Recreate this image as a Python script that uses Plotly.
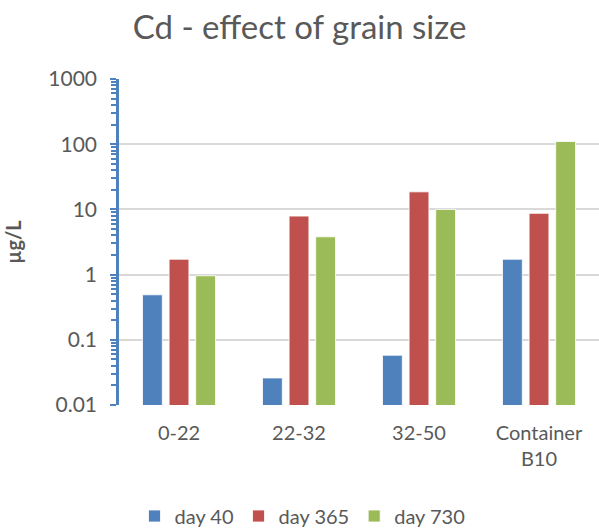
import plotly.graph_objects as go

categories = ["0-22", "22-32", "32-50", "Container<br>B10"]
series_names = ["day 40", "day 365", "day 730"]
day40 = [0.49, 0.026, 0.058, 1.72]
day365 = [1.72, 7.9, 18.6, 8.7]
day730 = [0.96, 3.8, 10.0, 110]
colors = ["#4F81BD", "#C0504D", "#9BBB59"]

FONT = "Lato"
GREY = "#595959"

minor_vals = [m * 10 ** e for e in range(-2, 3) for m in range(2, 10)]

fig = go.Figure()
for name, vals, col in zip(series_names, [day40, day365, day730], colors):
    fig.add_trace(go.Bar(
        x=categories, y=vals, name=name,
        marker=dict(color=col, line=dict(color="rgba(255,255,255,0.8)", width=1)),
    ))

fig.update_layout(
    width=599, height=531,
    margin=dict(l=119, r=0, t=79, b=126),
    paper_bgcolor="white", plot_bgcolor="white",
    barmode="group", bargap=0.335, bargroupgap=0.255,
    title=dict(text="Cd - effect of grain size", x=0.5, xref="container", xanchor="center",
               y=1 - 27 / 531, yref="container", yanchor="middle",
               font=dict(family=FONT, size=33, color=GREY)),
    font=dict(family=FONT, color=GREY),
    legend=dict(orientation="h", x=0.505, xanchor="center", xref="container",
                y=15 / 531, yref="container", yanchor="middle",
                font=dict(family=FONT, size=20, color=GREY),
                itemwidth=30, traceorder="normal"),
    showlegend=True,
)
fig.update_xaxes(
    range=[-0.5, 3.5], showline=False, showgrid=False, ticks="",
    tickfont=dict(family=FONT, size=20, color=GREY),
    ticklabelstandoff=14,
)
fig.update_yaxes(
    type="log", range=[-2, 3],
    tickvals=[0.01, 0.1, 1, 10, 100, 1000],
    ticktext=["0.01", "0.1", "1", "10", "100", "1000"],
    showgrid=True, gridcolor="#D9D9D9", gridwidth=1.5,
    showline=True, linecolor="#4F81BD", linewidth=2.5,
    ticks="outside", ticklen=6, tickcolor="#4F81BD", tickwidth=2,
    minor=dict(tickvals=minor_vals, ticks="outside", ticklen=5, tickcolor="#4F81BD",
               tickwidth=1.5, showgrid=False),
    tickfont=dict(family=FONT, size=21, color=GREY),
    ticklabelstandoff=9,
    title=dict(text="<b>µg/L</b>", font=dict(family=FONT, size=20, color=GREY), standoff=22),
    zeroline=False,
)

fig.write_html("out.html")
